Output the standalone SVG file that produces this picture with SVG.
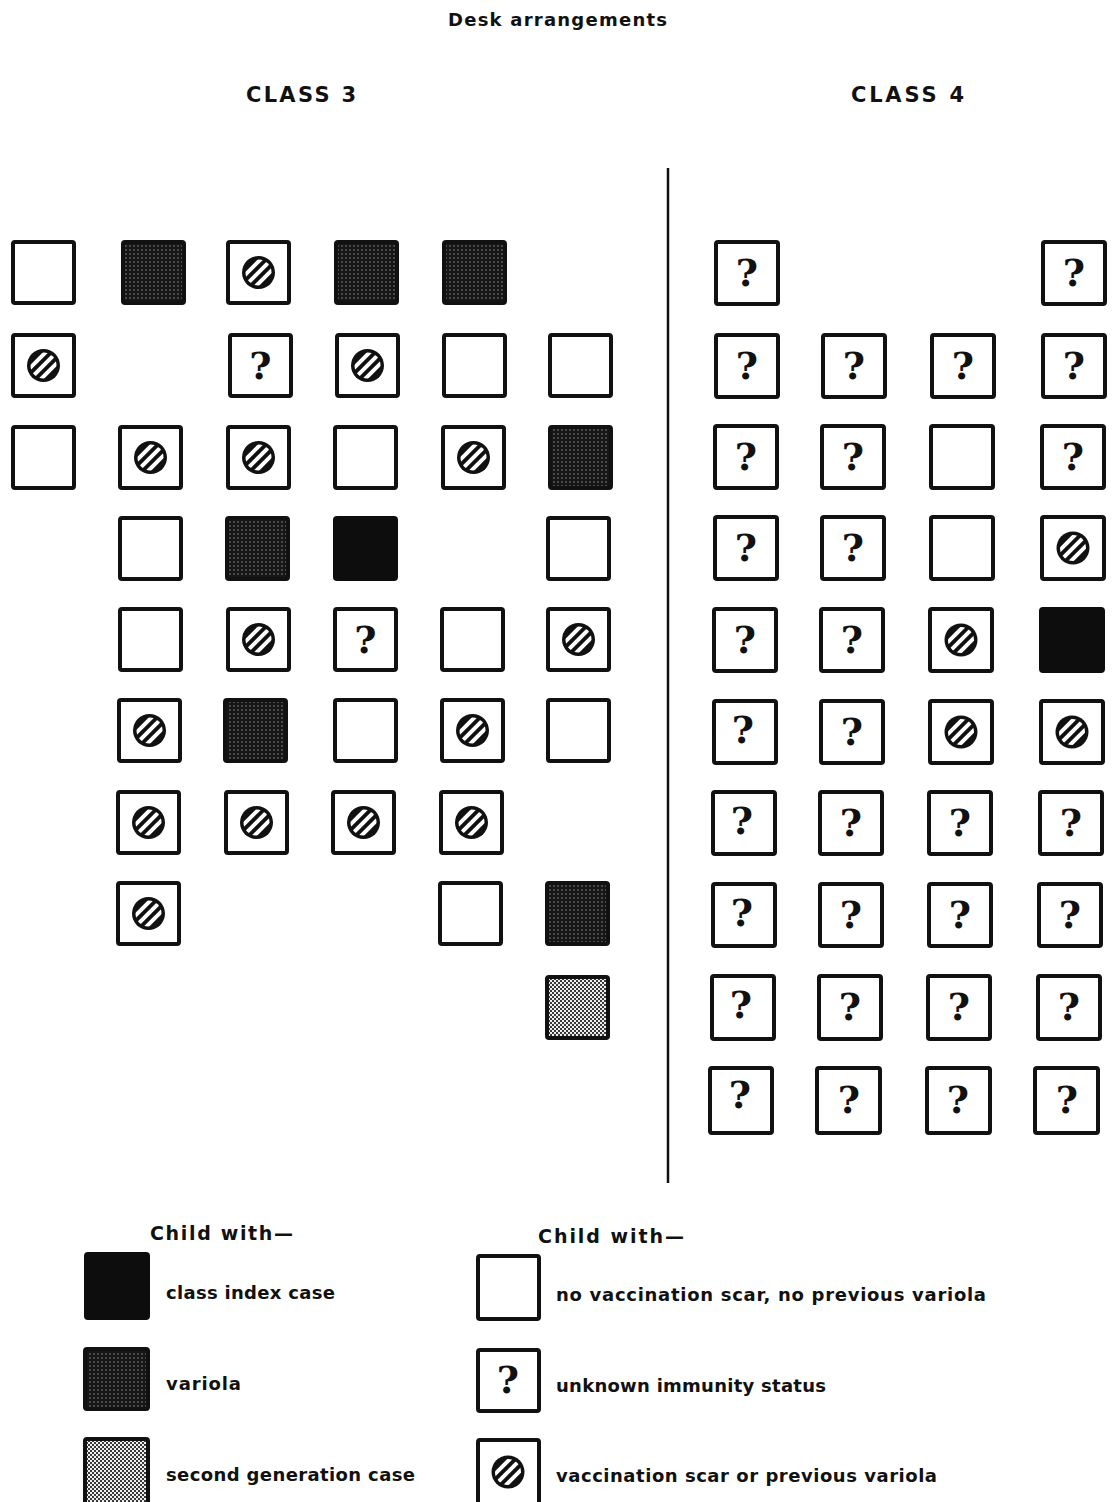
<svg xmlns="http://www.w3.org/2000/svg" xmlns:xlink="http://www.w3.org/1999/xlink" width="1112" height="1502" viewBox="0 0 1112 1502">
<style>
.t{font-family:"DejaVu Sans","Liberation Sans",sans-serif;font-weight:bold;fill:#111}
.sq{fill:#fff;stroke:#111;stroke-width:4}
.var{fill:url(#dots);stroke:#111;stroke-width:4}
.idx{fill:#0d0d0d;stroke:#0d0d0d;stroke-width:4}
.sec{fill:url(#checker);stroke:#111;stroke-width:4}
.q{font-family:"DejaVu Serif","Liberation Serif",serif;font-weight:bold;font-size:38px;fill:#111;text-anchor:middle}
</style>
<defs>
<pattern id="dots" width="4" height="4" patternUnits="userSpaceOnUse">
<rect width="4" height="4" fill="#161616"/>
<circle cx="2" cy="2" r="0.8" fill="#8a8a8a"/>
</pattern>
<pattern id="checker" width="4" height="4" patternUnits="userSpaceOnUse">
<rect width="4" height="4" fill="#eeeeee"/>
<rect width="2" height="2" fill="#3a3a3a"/>
<rect x="2" y="2" width="2" height="2" fill="#3a3a3a"/>
</pattern>
<clipPath id="cc"><circle cx="0" cy="0" r="13"/></clipPath>
<g id="vac">
<circle cx="0" cy="0" r="16.5" fill="#111"/>
<g clip-path="url(#cc)" stroke="#fff" stroke-width="4">
<line x1="-25" y1="14" x2="14" y2="-25"/>
<line x1="-20" y1="20" x2="20" y2="-20"/>
<line x1="-14" y1="25" x2="25" y2="-14"/>
</g>
</g>
</defs>
<rect width="1112" height="1502" fill="#fff"/>

<g id="title">
<text class="t" x="448" y="26" font-size="18" textLength="219" lengthAdjust="spacing">Desk arrangements</text>
<text class="t" x="246" y="102" font-size="21" textLength="110" lengthAdjust="spacing">CLASS 3</text>
<text class="t" x="851" y="102" font-size="21" textLength="113" lengthAdjust="spacing">CLASS 4</text>
</g>

<g id="connectors">
<line x1="668" y1="168" x2="668" y2="1183" stroke="#111" stroke-width="2.5"/>
</g>

<!-- CLASS 3 -->
<g id="class3">
<g id="c3-r1c1"><rect class="sq" x="13" y="242" width="61" height="61" rx="2"/></g>
<g id="c3-r1c2"><rect class="var" x="123" y="242" width="61" height="61" rx="2"/></g>
<g id="c3-r1c3"><rect class="sq" x="228" y="242" width="61" height="61" rx="2"/><use href="#vac" x="258.5" y="272.5"/></g>
<g id="c3-r1c4"><rect class="var" x="336" y="242" width="61" height="61" rx="2"/></g>
<g id="c3-r1c5"><rect class="var" x="444" y="242" width="61" height="61" rx="2"/></g>

<g id="c3-r2c1"><rect class="sq" x="13" y="335" width="61" height="61" rx="2"/><use href="#vac" x="43.5" y="365.5"/></g>
<g id="c3-r2c3"><rect class="sq" x="230" y="335" width="61" height="61" rx="2"/><text class="q" x="260.5" y="379">?</text></g>
<g id="c3-r2c4"><rect class="sq" x="337" y="335" width="61" height="61" rx="2"/><use href="#vac" x="367.5" y="365.5"/></g>
<g id="c3-r2c5"><rect class="sq" x="444" y="335" width="61" height="61" rx="2"/></g>
<g id="c3-r2c6"><rect class="sq" x="550" y="335" width="61" height="61" rx="2"/></g>

<g id="c3-r3c1"><rect class="sq" x="13" y="427" width="61" height="61" rx="2"/></g>
<g id="c3-r3c2"><rect class="sq" x="120" y="427" width="61" height="61" rx="2"/><use href="#vac" x="150.5" y="457.5"/></g>
<g id="c3-r3c3"><rect class="sq" x="228" y="427" width="61" height="61" rx="2"/><use href="#vac" x="258.5" y="457.5"/></g>
<g id="c3-r3c4"><rect class="sq" x="335" y="427" width="61" height="61" rx="2"/></g>
<g id="c3-r3c5"><rect class="sq" x="443" y="427" width="61" height="61" rx="2"/><use href="#vac" x="473.5" y="457.5"/></g>
<g id="c3-r3c6"><rect class="var" x="550" y="427" width="61" height="61" rx="2"/></g>

<g id="c3-r4c2"><rect class="sq" x="120" y="518" width="61" height="61" rx="2"/></g>
<g id="c3-r4c3"><rect class="var" x="227" y="518" width="61" height="61" rx="2"/></g>
<g id="c3-r4c4"><rect class="idx" x="335" y="518" width="61" height="61" rx="2"/></g>
<g id="c3-r4c6"><rect class="sq" x="548" y="518" width="61" height="61" rx="2"/></g>

<g id="c3-r5c2"><rect class="sq" x="120" y="609" width="61" height="61" rx="2"/></g>
<g id="c3-r5c3"><rect class="sq" x="228" y="609" width="61" height="61" rx="2"/><use href="#vac" x="258.5" y="639.5"/></g>
<g id="c3-r5c4"><rect class="sq" x="335" y="609" width="61" height="61" rx="2"/><text class="q" x="365.5" y="653">?</text></g>
<g id="c3-r5c5"><rect class="sq" x="442" y="609" width="61" height="61" rx="2"/></g>
<g id="c3-r5c6"><rect class="sq" x="548" y="609" width="61" height="61" rx="2"/><use href="#vac" x="578.5" y="639.5"/></g>

<g id="c3-r6c2"><rect class="sq" x="119" y="700" width="61" height="61" rx="2"/><use href="#vac" x="149.5" y="730.5"/></g>
<g id="c3-r6c3"><rect class="var" x="225" y="700" width="61" height="61" rx="2"/></g>
<g id="c3-r6c4"><rect class="sq" x="335" y="700" width="61" height="61" rx="2"/></g>
<g id="c3-r6c5"><rect class="sq" x="442" y="700" width="61" height="61" rx="2"/><use href="#vac" x="472.5" y="730.5"/></g>
<g id="c3-r6c6"><rect class="sq" x="548" y="700" width="61" height="61" rx="2"/></g>

<g id="c3-r7c2"><rect class="sq" x="118" y="792" width="61" height="61" rx="2"/><use href="#vac" x="148.5" y="822.5"/></g>
<g id="c3-r7c3"><rect class="sq" x="226" y="792" width="61" height="61" rx="2"/><use href="#vac" x="256.5" y="822.5"/></g>
<g id="c3-r7c4"><rect class="sq" x="333" y="792" width="61" height="61" rx="2"/><use href="#vac" x="363.5" y="822.5"/></g>
<g id="c3-r7c5"><rect class="sq" x="441" y="792" width="61" height="61" rx="2"/><use href="#vac" x="471.5" y="822.5"/></g>

<g id="c3-r8c2"><rect class="sq" x="118" y="883" width="61" height="61" rx="2"/><use href="#vac" x="148.5" y="913.5"/></g>
<g id="c3-r8c5"><rect class="sq" x="440" y="883" width="61" height="61" rx="2"/></g>
<g id="c3-r8c6"><rect class="var" x="547" y="883" width="61" height="61" rx="2"/></g>

<g id="c3-r9c6"><rect class="sec" x="547" y="977" width="61" height="61" rx="2"/></g>
</g>

<!-- CLASS 4 -->
<g id="class4">
<g id="c4-r1c1"><rect class="sq" x="716" y="242" width="62" height="62" rx="2"/><text class="q" x="747" y="286">?</text></g>
<g id="c4-r1c4"><rect class="sq" x="1043" y="242" width="62" height="62" rx="2"/><text class="q" x="1074" y="286">?</text></g>

<g id="c4-r2c1"><rect class="sq" x="716" y="335" width="62" height="62" rx="2"/><text class="q" x="747" y="379">?</text></g>
<g id="c4-r2c2"><rect class="sq" x="823" y="335" width="62" height="62" rx="2"/><text class="q" x="854" y="379">?</text></g>
<g id="c4-r2c3"><rect class="sq" x="932" y="335" width="62" height="62" rx="2"/><text class="q" x="963" y="379">?</text></g>
<g id="c4-r2c4"><rect class="sq" x="1043" y="335" width="62" height="62" rx="2"/><text class="q" x="1074" y="379">?</text></g>

<g id="c4-r3c1"><rect class="sq" x="715" y="426" width="62" height="62" rx="2"/><text class="q" x="746" y="470">?</text></g>
<g id="c4-r3c2"><rect class="sq" x="822" y="426" width="62" height="62" rx="2"/><text class="q" x="853" y="470">?</text></g>
<g id="c4-r3c3"><rect class="sq" x="931" y="426" width="62" height="62" rx="2"/></g>
<g id="c4-r3c4"><rect class="sq" x="1042" y="426" width="62" height="62" rx="2"/><text class="q" x="1073" y="470">?</text></g>

<g id="c4-r4c1"><rect class="sq" x="715" y="517" width="62" height="62" rx="2"/><text class="q" x="746" y="561">?</text></g>
<g id="c4-r4c2"><rect class="sq" x="822" y="517" width="62" height="62" rx="2"/><text class="q" x="853" y="561">?</text></g>
<g id="c4-r4c3"><rect class="sq" x="931" y="517" width="62" height="62" rx="2"/></g>
<g id="c4-r4c4"><rect class="sq" x="1042" y="517" width="62" height="62" rx="2"/><use href="#vac" x="1073" y="548"/></g>

<g id="c4-r5c1"><rect class="sq" x="714" y="609" width="62" height="62" rx="2"/><text class="q" x="745" y="653">?</text></g>
<g id="c4-r5c2"><rect class="sq" x="821" y="609" width="62" height="62" rx="2"/><text class="q" x="852" y="653">?</text></g>
<g id="c4-r5c3"><rect class="sq" x="930" y="609" width="62" height="62" rx="2"/><use href="#vac" x="961" y="640"/></g>
<g id="c4-r5c4"><rect class="idx" x="1041" y="609" width="62" height="62" rx="2"/></g>

<g id="c4-r6c1"><rect class="sq" x="714" y="701" width="62" height="62" rx="2"/><text class="q" x="743" y="743">?</text></g>
<g id="c4-r6c2"><rect class="sq" x="821" y="701" width="62" height="62" rx="2"/><text class="q" x="852" y="745">?</text></g>
<g id="c4-r6c3"><rect class="sq" x="930" y="701" width="62" height="62" rx="2"/><use href="#vac" x="961" y="732"/></g>
<g id="c4-r6c4"><rect class="sq" x="1041" y="701" width="62" height="62" rx="2"/><use href="#vac" x="1072" y="732"/></g>

<g id="c4-r7c1"><rect class="sq" x="713" y="792" width="62" height="62" rx="2"/><text class="q" x="742" y="834">?</text></g>
<g id="c4-r7c2"><rect class="sq" x="820" y="792" width="62" height="62" rx="2"/><text class="q" x="851" y="836">?</text></g>
<g id="c4-r7c3"><rect class="sq" x="929" y="792" width="62" height="62" rx="2"/><text class="q" x="960" y="836">?</text></g>
<g id="c4-r7c4"><rect class="sq" x="1040" y="792" width="62" height="62" rx="2"/><text class="q" x="1071" y="836">?</text></g>

<g id="c4-r8c1"><rect class="sq" x="713" y="884" width="62" height="62" rx="2"/><text class="q" x="742" y="926">?</text></g>
<g id="c4-r8c2"><rect class="sq" x="820" y="884" width="62" height="62" rx="2"/><text class="q" x="851" y="928">?</text></g>
<g id="c4-r8c3"><rect class="sq" x="929" y="884" width="62" height="62" rx="2"/><text class="q" x="960" y="928">?</text></g>
<g id="c4-r8c4"><rect class="sq" x="1039" y="884" width="62" height="62" rx="2"/><text class="q" x="1070" y="928">?</text></g>

<g id="c4-r9c1"><rect class="sq" x="712" y="976" width="62" height="63" rx="2"/><text class="q" x="741" y="1018">?</text></g>
<g id="c4-r9c2"><rect class="sq" x="819" y="976" width="62" height="63" rx="2"/><text class="q" x="850" y="1020">?</text></g>
<g id="c4-r9c3"><rect class="sq" x="928" y="976" width="62" height="63" rx="2"/><text class="q" x="959" y="1020">?</text></g>
<g id="c4-r9c4"><rect class="sq" x="1038" y="976" width="62" height="63" rx="2"/><text class="q" x="1069" y="1020">?</text></g>

<g id="c4-r10c1"><rect class="sq" x="710" y="1068" width="62" height="65" rx="2"/><text class="q" x="740" y="1108">?</text></g>
<g id="c4-r10c2"><rect class="sq" x="817" y="1068" width="63" height="65" rx="2"/><text class="q" x="849" y="1113">?</text></g>
<g id="c4-r10c3"><rect class="sq" x="927" y="1068" width="63" height="65" rx="2"/><text class="q" x="958" y="1113">?</text></g>
<g id="c4-r10c4"><rect class="sq" x="1035" y="1068" width="63" height="65" rx="2"/><text class="q" x="1067" y="1113">?</text></g>
</g>

<!-- LEGEND -->
<g id="legend-left">
<text class="t" x="150" y="1240" font-size="19" textLength="143" lengthAdjust="spacing">Child with—</text>
<g id="leg-index"><rect class="idx" x="86" y="1254" width="62" height="64" rx="2"/><text class="t" x="166" y="1299" font-size="18" textLength="169" lengthAdjust="spacing">class index case</text></g>
<g id="leg-variola"><rect class="var" x="85" y="1349" width="63" height="60" rx="2"/><text class="t" x="166" y="1390" font-size="18" textLength="75" lengthAdjust="spacing">variola</text></g>
<g id="leg-second"><rect class="sec" x="85" y="1439" width="63" height="66" rx="2"/><text class="t" x="166" y="1481" font-size="18" textLength="249" lengthAdjust="spacing">second generation case</text></g>
</g>

<g id="legend-right">
<text class="t" x="538" y="1243" font-size="19" textLength="146" lengthAdjust="spacing">Child with—</text>
<g id="leg-none"><rect class="sq" x="478" y="1256" width="61" height="63" rx="2"/><text class="t" x="556" y="1301" font-size="18" textLength="430" lengthAdjust="spacing">no vaccination scar, no previous variola</text></g>
<g id="leg-unknown"><rect class="sq" x="478" y="1350" width="61" height="61" rx="2"/><text class="q" x="508" y="1393">?</text><text class="t" x="556" y="1392" font-size="18" textLength="270" lengthAdjust="spacing">unknown immunity status</text></g>
<g id="leg-vacc"><rect class="sq" x="478" y="1440" width="61" height="66" rx="2"/><use href="#vac" x="508" y="1472"/><text class="t" x="556" y="1482" font-size="18" textLength="381" lengthAdjust="spacing">vaccination scar or previous variola</text></g>
</g>
</svg>
